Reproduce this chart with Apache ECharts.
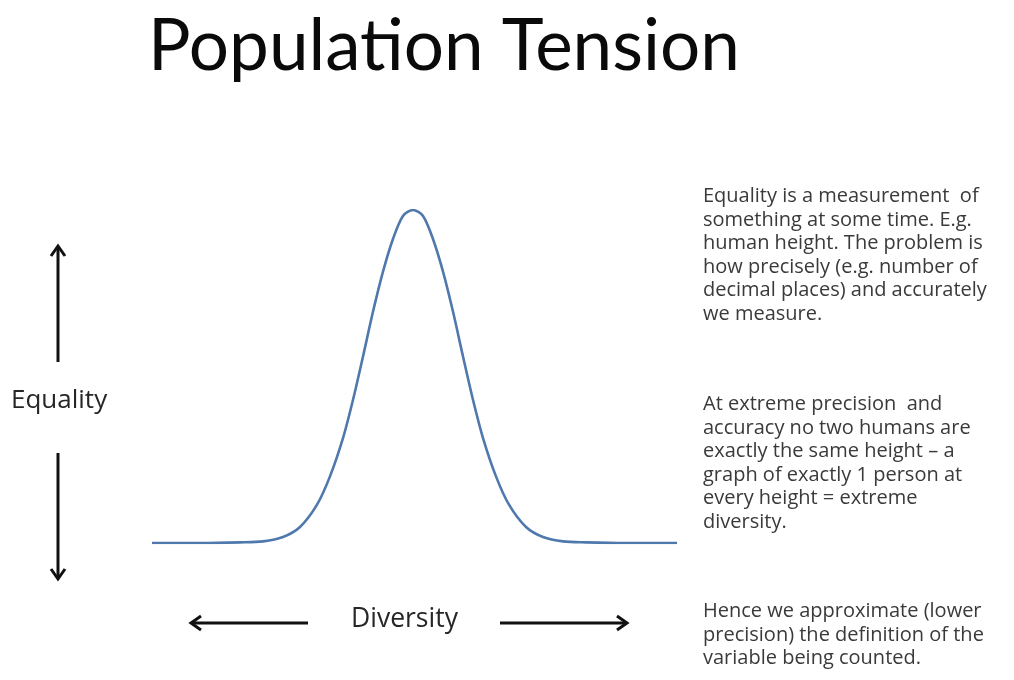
<!DOCTYPE html>
<html>
<head>
<meta charset="utf-8">
<script src="https://cdn.jsdelivr.net/npm/echarts@6/dist/echarts.min.js"></script>
<style>html,body{margin:0;padding:0;background:#fff}#c{width:1014px;height:680px}</style>
</head>
<body>
<div id="c"></div>
<script>
// Diversity positions (0-100) and Equality curve height (0-100)
const diversity = [0, 9.14, 16.76, 21.14, 24.95, 28.19, 31.43, 33.90, 36.38, 38.29, 40.19, 42.10, 44.00, 45.90, 47.81, 49.71, 51.62, 53.52, 55.43, 57.33, 59.24, 61.14, 63.05, 65.52, 68.00, 71.24, 74.48, 78.29, 82.67, 90.29, 100];
const equality  = [0, 0, 0.2, 0.5, 1.8, 4.8, 11.5, 20.0, 31.5, 43.0, 56.0, 69.5, 81.5, 91.3, 98.2, 100, 98.2, 91.3, 81.5, 69.5, 56.0, 43.0, 31.5, 20.0, 11.5, 4.8, 1.8, 0.5, 0.2, 0, 0];
const titleText = 'Population Tension';
const yLabel = 'Equality';
const xLabel = 'Diversity';
const notes = [
  'Equality is a measurement  of\nsomething at some time. E.g.\nhuman height. The problem is\nhow precisely (e.g. number of\ndecimal places) and accurately\nwe measure.',
  'At extreme precision  and\naccuracy no two humans are\nexactly the same height \u2013 a\ngraph of exactly 1 person at\nevery height = extreme\ndiversity.',
  'Hence we approximate (lower\nprecision) the definition of the\nvariable being counted.'
];

const chart = echarts.init(document.getElementById('c'), null, {renderer: 'canvas'});
const TFONT = 'Lato, "Open Sans", sans-serif';
const FONT = '"Open Sans", Lato, sans-serif';
const arrow = (pts, head) => ({
  type: 'group',
  children: [
    {type: 'polyline', shape: {points: pts}, style: {stroke: '#111', lineWidth: 3, fill: null}},
    {type: 'polyline', shape: {points: head}, style: {stroke: '#111', lineWidth: 3, fill: null, lineJoin: 'miter'}}
  ]
});
chart.setOption({
  backgroundColor: '#ffffff',
  animation: false,
  title: {
    text: titleText,
    left: 439, top: 7, textAlign: 'center',
    textStyle: {fontFamily: TFONT, fontSize: 71, fontWeight: 'normal', color: '#0a0a0a'}
  },
  grid: {left: 152, right: 337, top: 210, bottom: 137},
  xAxis: {type: 'value', min: 0, max: 100, show: false},
  yAxis: {type: 'value', min: 0, max: 100, show: false},
  series: [{
    type: 'line',
    data: diversity.map((d, i) => [d, equality[i]]),
    smooth: 0.3,
    showSymbol: false,
    lineStyle: {color: '#4f78ad', width: 2.6}
  }],
  graphic: [
    {type: 'text', left: 11, top: 388, style: {text: yLabel, font: '26px ' + FONT, fill: '#262626'}},
    {type: 'text', left: 351, top: 606, style: {text: xLabel, font: '26.5px ' + FONT, fill: '#262626'}},
    arrow([[58, 362], [58, 247]], [[51, 256], [58, 246], [65, 256]]),
    arrow([[58, 453], [58, 578]], [[51, 569], [58, 579], [65, 569]]),
    arrow([[308, 623], [192, 623]], [[201, 616], [191, 623], [201, 630]]),
    arrow([[500, 623], [626, 623]], [[617, 616], [627, 623], [617, 630]]),
    {type: 'text', left: 703, top: 185, style: {text: notes[0], font: '20px ' + FONT, fill: '#3a3a3a', lineHeight: 23.5}},
    {type: 'text', left: 703, top: 393, style: {text: notes[1], font: '20px ' + FONT, fill: '#3a3a3a', lineHeight: 23.5}},
    {type: 'text', left: 703, top: 600, style: {text: notes[2], font: '20px ' + FONT, fill: '#3a3a3a', lineHeight: 23.5}}
  ]
});
</script>
</body>
</html>
